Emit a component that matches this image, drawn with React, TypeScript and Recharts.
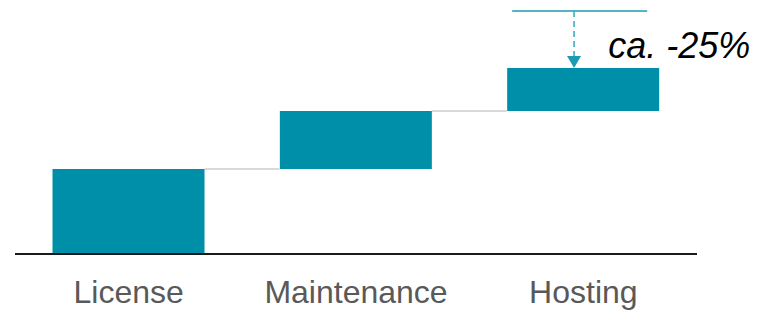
import React from 'react';
import { ComposedChart, Bar, XAxis, YAxis } from 'recharts';

const categories = ['License', 'Maintenance', 'Hosting'];
const lows = [0, 85, 143];
const highs = [85, 143, 186];
const befores: (number | null)[] = [null, null, 243];
const reductionLabel = 'ca. -25%';

const GAP = 0.165;

const data = categories.map((name, i) => ({
  name,
  range: [lows[i], highs[i]],
  low: lows[i],
  high: highs[i],
  before: befores[i],
  hasNext: i < categories.length - 1,
}));

const BAR = '#008FA8';
const FONT = '"Liberation Sans", Arial, sans-serif';

const WaterfallShape = (props: any) => {
  const { x, y, width, height, payload } = props;
  const band = width / (1 - 2 * GAP);
  const nextLeft = x + width + 2 * GAP * band;
  const connector = payload.hasNext ? (
    <line x1={x + width} x2={nextLeft} y1={y} y2={y} stroke="#d9d9d9" strokeWidth={2} />
  ) : null;
  const rect = <rect x={x} y={y} width={width} height={height} fill={BAR} />;
  if (payload.before == null) return <g>{connector}{rect}</g>;
  const unit = height / (payload.high - payload.low);
  const yBefore = y - (payload.before - payload.high) * unit;
  const ax = x + width * 0.44;
  return (
    <g>
      {connector}
      {rect}
      <line x1={x + 5} x2={x + width - 12} y1={yBefore} y2={yBefore} stroke="#1C9AB1" strokeWidth={1.5} />
      <line x1={ax} x2={ax} y1={yBefore} y2={y - 12} stroke="#2FA9C0" strokeWidth={1.5} strokeDasharray="6 4" />
      <polygon points={`${ax - 7},${y - 12} ${ax + 7},${y - 12} ${ax},${y}`} fill="#1C9AB1" />
      <text x={x + 101} y={y - 10} fontFamily={FONT} fontSize={36} fontStyle="italic" fill="#000">
        {reductionLabel}
      </text>
    </g>
  );
};

export default function App() {
  return (
    <div style={{ position: 'absolute', left: 0, top: 0, background: '#fff' }}>
      <ComposedChart
        width={761}
        height={311}
        data={data}
        margin={{ top: 0, right: 64, left: 15, bottom: 0 }}
        barCategoryGap={`${GAP * 100}%`}
      >
        <XAxis
          dataKey="name"
          height={57}
          axisLine={{ stroke: '#1a1a1a', strokeWidth: 2 }}
          tickLine={false}
          tickMargin={20}
          tick={{ fill: '#595959', fontSize: 32, fontFamily: FONT }}
          interval={0}
        />
        <YAxis hide domain={[0, 254]} />
        <Bar dataKey="range" isAnimationActive={false} shape={WaterfallShape} />
      </ComposedChart>
    </div>
  );
}
